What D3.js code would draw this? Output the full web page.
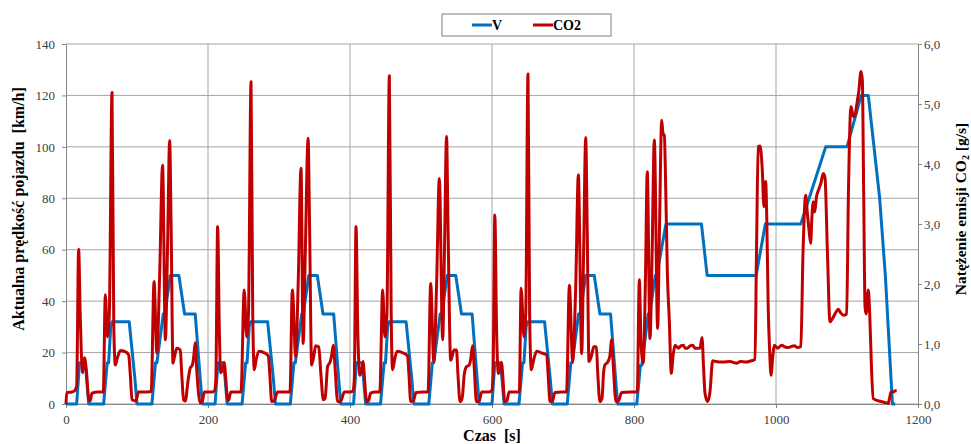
<!DOCTYPE html>
<html>
<head>
<meta charset="utf-8">
<script src="https://cdn.jsdelivr.net/npm/d3@7"></script>
<style>
body{margin:0;background:#fff}
svg text{font-family:"Liberation Serif","Times New Roman",serif}
.axis path,.axis line{stroke:#868686}
.title{font-weight:bold;font-size:16px;fill:#000}
</style>
</head>
<body>
<div id="chart"></div>
<script>
// ticks
var timeTicks = [0, 200, 400, 600, 800, 1000, 1200]
var speedTicks = [0, 20, 40, 60, 80, 100, 120, 140]
var co2Ticks = [0, 1, 2, 3, 4, 5, 6]

// V [km/h] - [czas s, predkosc]
var vUrban1 = [[0,0],[15,0],[19,16],[27,16],[29,10],[32,0],[53,0],[58,16],[60,16],[63,30],[65,32],[89,32],[97,10],[100,0],
  [121,0],[126,16],[128,16],[137,35],[139,35],[147,50],[159,50],[167,35],[180,35],[182,35],[189,10],[192,0]]
var vUrban2 = [[210,0],[214,16],[222,16],[224,10],[227,0],[248,0],[253,16],[255,16],[258,30],[260,32],[284,32],[292,10],[295,0],
  [316,0],[321,16],[323,16],[332,35],[334,35],[342,50],[354,50],[362,35],[375,35],[377,35],[384,10],[387,0]]
var vUrban3 = [[405,0],[409,16],[417,16],[419,10],[422,0],[443,0],[448,16],[450,16],[453,30],[455,32],[479,32],[487,10],[490,0],
  [511,0],[516,16],[518,16],[527,35],[529,35],[537,50],[549,50],[557,35],[570,35],[572,35],[579,10],[582,0]]
var vUrban4 = [[600,0],[604,16],[612,16],[614,10],[617,0],[638,0],[643,16],[645,16],[648,30],[650,32],[674,32],[682,10],[685,0],
  [706,0],[711,16],[713,16],[722,35],[724,35],[732,50],[744,50],[752,35],[765,35],[767,35],[774,10],[777,0]]
var vExtra = [[804,0],[809,15],[811,15],[820,35],[822,35],[830,50],[832,50],[845,70],[895,70],[903,50],[972,50],[985,70],
  [1035,70],[1070,100],[1100,100],[1120,120],[1130,120],[1146,80],[1154,50],[1164,0],[1168,0]]

// CO2 [g/s] - [czas s, emisja]
var co2Urban1 = [[0,0],[1,0.19],[8,0.2],[12,0.22],[15,0.3],[17.8,2.58],[20,1.5],[21.6,0.85],[23.5,0.52],[26,0.77],[29,0.52],[32,0.07],
  [34,0.05],[36.6,0.18],[45,0.2],[52.5,0.2],[55.4,1.82],[58.2,1.12],[61,1.5],[64.8,5.19],[67.3,1.3],[69.5,0.65],[72,0.75],[76.5,0.89],
  [82,0.88],[88.2,0.82],[90.5,0.5],[93,0.07],[98.6,0.05],[102,0.2],[110,0.2],[120,0.21],[124,2.04],[128,0.85],[132,2.2],[136,3.98],
  [140,1.07],[143,2.6],[146,4.39],[148,3],[150.7,0.68],[153,0.8],[156,0.93],[161,0.9],[163,0.5],[165.7,0.07],[168,0.05],[172,0.4],
  [175,0.6],[178,0.65],[180,0.8],[182,1.02],[184,0.6],[189,0.02],[192,0.05]]
var co2Urban2 = [[195,0.2],[205,0.2],[209,0.22],[211,0.4],[213.6,2.96],[216,1.2],[218,0.52],[221,0.6],[223,0.69],[224.5,0.5],
  [227.7,0.07],[229,0.06],[232,0.2],[240,0.2],[246.5,0.2],[251,1.9],[254.5,1.12],[257,1.5],[260.6,5.37],[263,1.5],[265.2,0.57],
  [268,0.75],[271.8,0.88],[280,0.85],[285,0.8],[287,0.5],[289.7,0.04],[293,0.05],[298,0.2],[310,0.2],[315.5,0.2],[318.8,1.9],
  [323.5,0.79],[327,2.0],[331,3.93],[334,1.01],[337,2.5],[341,4.43],[343,3],[346,0.65],[349,0.8],[351.6,0.97],[356,0.95],[359,0.5],
  [362.4,0.07],[365,0.1],[368.5,0.63],[372,0.7],[374,0.8],[376.5,0.98],[379,0.6],[382.6,0.04],[387,0.05]]
var co2Urban3 = [[392,0.2],[400,0.2],[404,0.22],[406,0.4],[408.5,2.96],[411,1.2],[414,0.48],[417,0.6],[418.7,0.71],[420,0.5],
  [423.5,0.04],[426,0.05],[429,0.18],[436,0.2],[442,0.2],[446,1.9],[449,1.12],[452,1.5],[455.4,5.47],[458,1.5],[460,0.57],[463,0.75],
  [466.6,0.88],[475,0.85],[481,0.8],[483,0.5],[485.5,0.04],[489,0.05],[493,0.19],[503,0.2],[510,0.2],[513.6,2.01],[518,0.71],
  [522,2.0],[525.8,3.76],[530.5,1.07],[533,2.5],[536,4.46],[538,3],[541.8,0.73],[544,0.8],[546.5,0.9],[550,0.9],[552,0.5],[555,0.04],
  [558,0.1],[561,0.5],[564,0.62],[568,0.65],[570,0.75],[572.7,0.97],[575,0.6],[578,0.04],[582,0.05]]
var co2Urban4 = [[585.5,0.2],[595,0.2],[599.5,0.22],[601.5,0.5],[604,3.15],[606.5,1.2],[609,0.51],[612,0.6],[613.6,0.69],[615,0.5],
  [618,0.04],[621,0.05],[624,0.2],[632,0.2],[638.5,0.2],[641,1.93],[645,1.12],[647.5,1.5],[650.7,5.5],[653,1.5],[655.4,0.57],
  [659,0.75],[663,0.88],[670,0.85],[677,0.82],[679,0.5],[681.7,0.04],[685,0.05],[688.7,0.19],[698,0.2],[705,0.2],[709,1.98],
  [713.6,0.71],[718,2.0],[721.6,3.82],[726.3,0.84],[729,2.5],[732,4.44],[734,3],[736.6,0.71],[740,0.8],[743.6,0.96],[747,0.95],
  [749,0.5],[752,0.04],[755,0.1],[757,0.5],[759,0.65],[763,0.7],[766,0.8],[768.6,1.07],[771,0.6],[774.6,0.04],[778,0.05]]
var co2Extra = [[782.6,0.19],[795,0.2],[804.6,0.2],[807.5,2.07],[810,1.0],[813,0.68],[816,2.0],[818.7,3.87],[822.5,1.09],[825.5,2.5],
  [828.6,4.4],[833.3,1.26],[836,3.0],[839,4.73],[841,4.5],[842.7,4.48],[845,3.4],[847,2.18],[849.7,1.4],[852.5,0.51],[855,0.8],
  [857.7,0.98],[862.4,0.93],[866,0.97],[869.5,0.98],[872,0.93],[875,0.93],[879,0.97],[882.6,0.98],[886,0.93],[889,0.93],[893,0.93],
  [895.8,1.11],[898,0.6],[900,0.18],[903.8,0.04],[907,0.2],[910.8,0.72],[915,0.71],[925,0.7],[935,0.71],[944.6,0.68],[950,0.71],
  [958,0.7],[965,0.72],[970.4,0.74],[972.5,2.5],[975,4.29],[977.5,4.3],[980.7,3.9],[983,3.29],[985.4,3.71],[987,3.1],[989,1.62],
  [991,0.9],[993,0.48],[995.5,0.8],[997.6,0.98],[1002,0.93],[1008,0.98],[1013,0.95],[1017.4,0.94],[1022,0.96],[1025.8,0.97],
  [1030,0.94],[1035,0.96],[1038,2.5],[1041.8,3.48],[1044,3.2],[1046.5,2.9],[1048.8,2.68],[1050.5,3.1],[1052.5,3.37],[1054.5,3.2],
  [1057,3.45],[1060.6,3.59],[1063,3.67],[1066.6,3.84],[1069,3.77],[1072.5,2.5],[1076,1.37],[1079.8,1.43],[1084,1.52],[1087.8,1.58],
  [1091,1.52],[1095,1.48],[1099.5,1.5],[1102,3.5],[1105.6,4.96],[1108.9,4.79],[1111,4.8],[1113.6,4.98],[1116.5,5.2],[1119.7,5.54],
  [1121.6,5.4],[1123.5,3.5],[1125.4,1.62],[1127,1.5],[1130,1.9],[1132,1.5],[1134.5,0.6],[1137,0.09],[1145,0.05],[1152,0.03],
  [1158,0.01],[1160,0.1],[1162,0.2],[1165,0.2],[1168,0.22],[1170,0.22]]

var speedData = vUrban1.concat(vUrban2, vUrban3, vUrban4, vExtra)
var co2Data = co2Urban1.concat(co2Urban2, co2Urban3, co2Urban4, co2Extra)

var W = 971, H = 444;
var margin = {top: 44, right: 53, bottom: 40, left: 66},
width = W - margin.left - margin.right,
height = H - margin.top - margin.bottom;

var root = d3.select("#chart").append("svg")
  .attr("width", W)
  .attr("height", H)

var svg = root.append("g")
  .attr("transform", "translate(" + margin.left + "," + margin.top + ")");

var x = d3.scaleLinear().domain([0, 1200]).range([0, width])
var yV = d3.scaleLinear().domain([0, 140]).range([height, 0])
var yC = d3.scaleLinear().domain([0, 6]).range([height, 0])

// siatka
svg.append("g").selectAll("line")
  .data(speedTicks).enter().append("line")
  .attr("x1", 0).attr("x2", width)
  .attr("y1", function(d){ return yV(d) })
  .attr("y2", function(d){ return yV(d) })
  .attr("stroke", "#a6a6a6")

svg.append("g").selectAll("line")
  .data(timeTicks.slice(1, -1)).enter().append("line")
  .attr("x1", function(d){ return x(d) })
  .attr("x2", function(d){ return x(d) })
  .attr("y1", 0).attr("y2", height)
  .attr("stroke", "#a6a6a6")

var comma = function(d){ return d3.format(".1f")(d).replace(".", ",") }

function styleAxis(g){
  g.attr("font-family", "Liberation Serif, Times New Roman, serif").attr("font-size", 13)
  g.selectAll("text").style("font-family", "'Liberation Serif', serif").style("font-size", "13px").style("fill", "#404040")
}

svg.append("g")
  .attr("class", "axis")
  .call(d3.axisLeft(yV).tickValues(speedTicks).tickSize(4).tickSizeOuter(0).tickPadding(7))
  .call(styleAxis);

svg.append("g")
  .attr("class", "axis")
  .attr("transform", "translate(" + width + ",0)")
  .call(d3.axisRight(yC).tickValues(co2Ticks).tickFormat(comma).tickSize(4).tickSizeOuter(0).tickPadding(2))
  .call(styleAxis);

svg.append("g")
  .attr("class", "axis")
  .attr("transform", "translate(0," + height + ")")
  .call(d3.axisBottom(x).tickValues(timeTicks).tickFormat(d3.format("d")).tickSize(4).tickSizeOuter(0).tickPadding(7))
  .call(styleAxis);

// linie
var lineV = d3.line()
  .x(function(d){ return x(d[0]) })
  .y(function(d){ return yV(d[1]) })

var lineC = d3.line()
  .curve(d3.curveMonotoneX)
  .x(function(d){ return x(d[0]) })
  .y(function(d){ return yC(d[1]) })

svg.append("path")
  .datum(speedData)
  .attr("fill", "none")
  .attr("stroke", "#0070c0")
  .attr("stroke-width", 3)
  .attr("stroke-linejoin", "round")
  .attr("d", lineV)

svg.append("path")
  .datum(co2Data)
  .attr("fill", "none")
  .attr("stroke", "#c00000")
  .attr("stroke-width", 3)
  .attr("stroke-linejoin", "round")
  .attr("d", lineC)

// tytuly osi
root.append("text")
  .attr("class", "title")
  .attr("transform", "translate(24,209) rotate(-90)")
  .style("text-anchor", "middle")
  .style("white-space", "pre")
  .text("Aktualna prędkość pojazdu  [km/h]")

var rt = root.append("text")
  .attr("class", "title")
  .attr("transform", "translate(966,209) rotate(-90)")
  .style("text-anchor", "middle")
  .style("font-size", "15.5px")
rt.append("tspan").text("Natężenie emisji CO")
rt.append("tspan").attr("font-size", "10px").attr("dy", 3).text("2")
rt.append("tspan").attr("dy", -3).text(" [g/s]")

root.append("text")
  .attr("class", "title")
  .attr("x", margin.left + width / 2)
  .attr("y", 441)
  .style("text-anchor", "middle")
  .style("white-space", "pre")
  .text("Czas  [s]")

// legenda
var legend = root.append("g")
legend.append("rect")
  .attr("x", 442).attr("y", 14)
  .attr("width", 169).attr("height", 22)
  .attr("fill", "#fff")
  .attr("stroke", "#7f7f7f")

var legendItems = [{name: "V", color: "#0070c0", x: 472}, {name: "CO2", color: "#c00000", x: 533}]
legendItems.forEach(function(it){
  legend.append("line")
    .attr("x1", it.x).attr("x2", it.x + 20)
    .attr("y1", 25).attr("y2", 25)
    .attr("stroke", it.color).attr("stroke-width", 3)
  legend.append("text")
    .attr("x", it.x + 20).attr("y", 30)
    .style("font-weight", "bold").style("font-size", "14px")
    .text(it.name)
})
</script>
</body>
</html>
